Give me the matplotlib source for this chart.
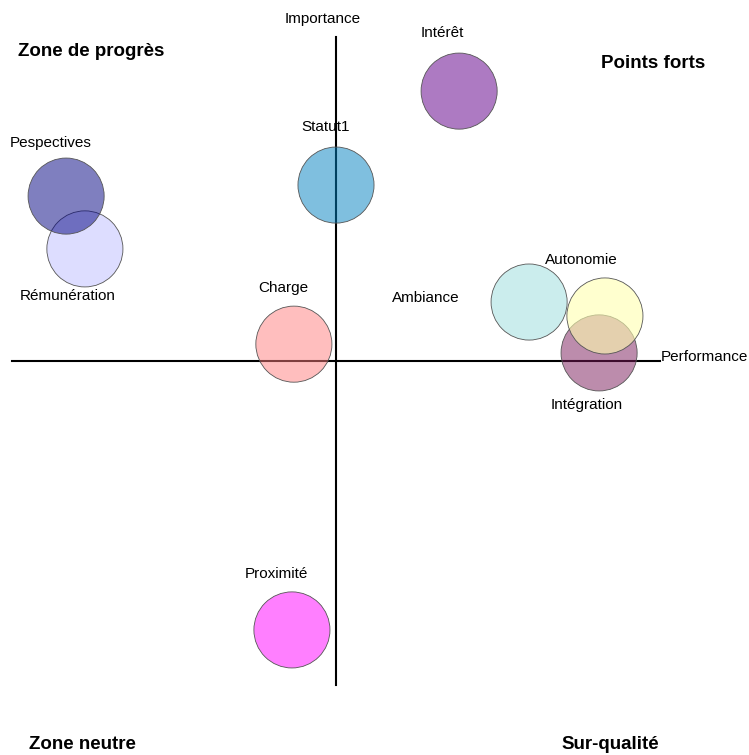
import matplotlib.pyplot as plt

plt.rcParams['font.family'] = ['Liberation Sans', 'DejaVu Sans']

# Bubble chart: Performance (x) vs Importance (y)

labels = ["Rémunération", "Pespectives", "Statut1", "Intérêt", "Charge",
          "Ambiance", "Intégration", "Autonomie", "Proximité"]
perf = [-0.775, -0.833, 0.0, 0.380, -0.130, 0.596, 0.812, 0.830, -0.136]
imp = [0.346, 0.509, 0.543, 0.833, 0.052, 0.182, 0.025, 0.139, -0.830]
sizes = [3000, 3000, 3000, 3000, 3000, 3000, 3000, 3000, 3000]
colors = ["#ddddff", "#000080", "#0080c0", "#6a0d91", "#ff7f7f",
          "#99dddd", "#7a1a5a", "#ffffb0", "#ff00ff"]
alphas = [1.0, 0.5, 0.5, 0.55, 0.5, 0.5, 0.5, 0.6, 0.5]

# label positions (data units), offset from bubble
label_x = [-0.827, -0.880, -0.031, 0.327, -0.164, 0.278, 0.775, 0.756, -0.185]
label_y = [0.201, 0.673, 0.722, 1.012, 0.225, 0.194, -0.136, 0.312, -0.657]

fig = plt.figure(figsize=(7.49, 7.55), dpi=100)
ax = fig.add_axes([0, 0, 1, 1])
ax.set_xlim(-336 / 324, (749 - 336) / 324)
ax.set_ylim((361 - 755) / 324, 361 / 324)
ax.axis("off")

# axes cross
ax.plot([-1, 1], [0, 0], color="black", linewidth=1.5, zorder=1)
ax.plot([0, 0], [-1, 1], color="black", linewidth=1.5, zorder=1)

for i in range(len(labels)):
    ax.scatter(perf[i], imp[i], s=sizes[i], color=colors[i], alpha=alphas[i],
               edgecolors="none", zorder=2 + i)
    ax.scatter(perf[i], imp[i], s=sizes[i], facecolors="none",
               edgecolors="#555555", linewidths=0.6, zorder=2 + i)
    ax.text(label_x[i], label_y[i], labels[i], ha="center", va="center",
            fontsize=11, zorder=20)

ax.text(-0.040, 1.056, "Importance", ha="center", va="center", fontsize=11)
ax.text(1.002, 0.012, "Performance", ha="left", va="center", fontsize=11)

ax.text(-0.756, 0.954, "Zone de progrès", ha="center", va="center",
        fontsize=13.5, fontweight="bold")
ax.text(0.978, 0.917, "Points forts", ha="center", va="center",
        fontsize=13.5, fontweight="bold")
ax.text(-0.784, -1.185, "Zone neutre", ha="center", va="center",
        fontsize=13.5, fontweight="bold")
ax.text(0.846, -1.185, "Sur-qualité", ha="center", va="center",
        fontsize=13.5, fontweight="bold")

plt.savefig("out.png", dpi=100)
